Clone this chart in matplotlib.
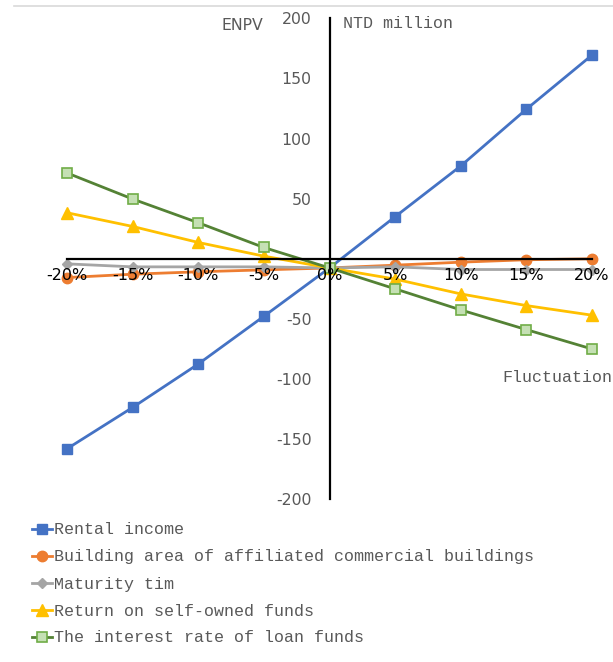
import matplotlib
matplotlib.use("Agg")
import matplotlib.pyplot as plt
from matplotlib.lines import Line2D

plt.rcParams["axes.unicode_minus"] = False

# Sensitivity of ENPV (NTD million) to fluctuations in key inputs
fluctuation = [-20, -15, -10, -5, 0, 5, 10, 15, 20]
tick_labels = ["-20%", "-15%", "-10%", "-5%", "0%", "5%", "10%", "15%", "20%"]

rental_income = [-158, -123.6, -87.5, -47.8, -7.6, 35, 77.2, 124.4, 169.4]
building_area = [-15.6, -12.8, -10.8, -9.2, -7.6, -5.3, -2.8, -0.8, 0]
maturity_time = [-4.2, -6.7, -6.7, -6.7, -7.6, -6.7, -8.9, -8.9, -8.9]
self_fund_return = [38.3, 26.9, 13.6, 2.2, -7.6, -16.9, -29.2, -38.9, -46.9]
loan_interest = [71.4, 49.7, 30.0, 9.4, -7.6, -25.0, -42.5, -58.9, -75.0]

series = [
    ("Rental income", rental_income,
     dict(color="#4472C4", marker="s", mfc="#4472C4", mec="#4472C4", ms=7.5)),
    ("Building area of affiliated commercial buildings", building_area,
     dict(color="#ED7D31", marker="o", mfc="#ED7D31", mec="#ED7D31", ms=7.5)),
    ("Maturity tim", maturity_time,
     dict(color="#A5A5A5", marker="D", mfc="#A5A5A5", mec="#A5A5A5", ms=5.5)),
    ("Return on self-owned funds", self_fund_return,
     dict(color="#FFC000", marker="^", mfc="#FFC000", mec="#FFC000", ms=8.5)),
    ("The interest rate of loan funds", loan_interest,
     dict(color="#548235", marker="s", mfc="#C5E0B4", mec="#70AD47", ms=7.5, mew=1.2)),
]

GREY_TXT = "#595959"
MONO = "Liberation Mono"

W, H = 613, 662
fig = plt.figure(figsize=(W / 100, H / 100), dpi=100)

# axes box: x from -20% to 20%, y from -200 to 200
left_px, right_px = 67, 592
top_px, bot_px = 18.3, 499.3
ax = fig.add_axes([left_px / W, 1 - bot_px / H,
                   (right_px - left_px) / W, (bot_px - top_px) / H])
ax.set_xlim(-20, 20)
ax.set_ylim(-200, 200)

handles = []
for name, vals, st in series:
    ln, = ax.plot(fluctuation, vals, lw=2, clip_on=False, zorder=2, label=name, **st)
    handles.append(ln)

# axes crossing at the origin
for s in ("top", "right"):
    ax.spines[s].set_visible(False)
for s in ("left", "bottom"):
    ax.spines[s].set_position(("data", 0))
    ax.spines[s].set_linewidth(1.6)
    ax.spines[s].set_color("black")

ax.set_yticks([-200, -150, -100, -50, 50, 100, 150, 200])
ax.set_xticks(fluctuation)
ax.set_xticklabels(tick_labels)
ax.tick_params(axis="y", length=0, pad=13, labelsize=11.3, labelcolor=GREY_TXT)
ax.tick_params(axis="x", length=0, pad=6.5, labelsize=11.5, labelcolor="black")
for t in ax.get_xticklabels() + ax.get_yticklabels():
    t.set_fontfamily("DejaVu Sans")
# category labels sit on top of the series
ax.xaxis.set_zorder(3)

# axis titles
fig.text(242 / W, 1 - 26 / H, "ENPV", ha="center", va="center",
         fontsize=11.3, color=GREY_TXT, family="DejaVu Sans")
fig.text(343 / W, 1 - 24 / H, "NTD million", ha="left", va="center",
         fontsize=12, color=GREY_TXT, family=MONO)
fig.text(502 / W, 1 - 378 / H, "Fluctuation", ha="left", va="center",
         fontsize=12, color=GREY_TXT, family=MONO)

# light frame line across the top
fig.add_artist(Line2D([14 / W, 1], [1 - 6 / H, 1 - 6 / H], transform=fig.transFigure,
                      color="#D9D9D9", lw=1.2))

leg = fig.legend(handles=handles, loc="upper left",
                 bbox_to_anchor=(32 / W, 1 - 522.5 / H),
                 frameon=False, prop={"family": MONO, "size": 12},
                 handlelength=1.2, handletextpad=0.15, labelspacing=0.72,
                 borderaxespad=0, borderpad=0)
for t in leg.get_texts():
    t.set_color(GREY_TXT)

fig.savefig("out.png", dpi=100)
